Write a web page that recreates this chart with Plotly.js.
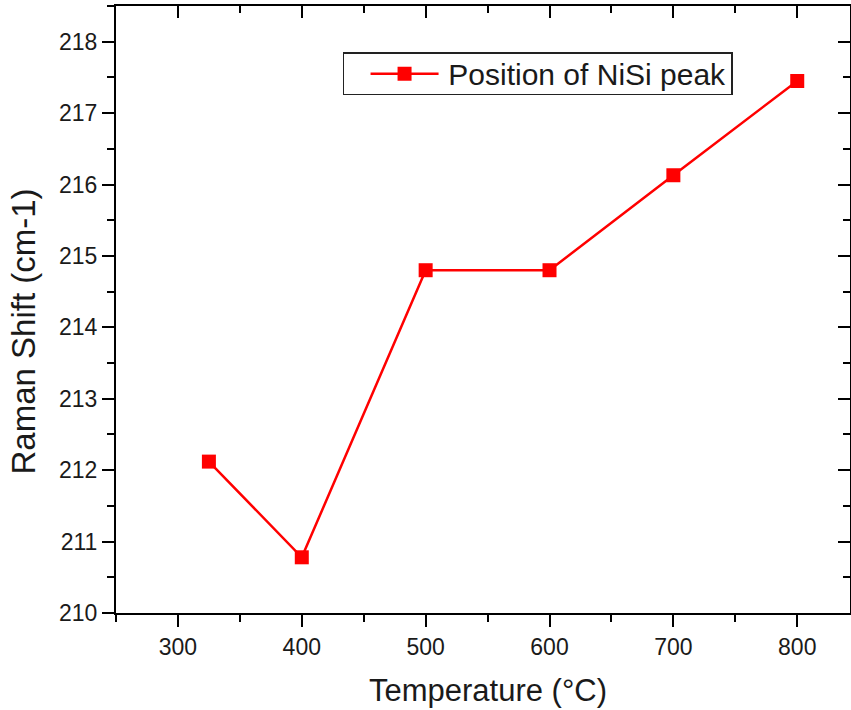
<!DOCTYPE html>
<html>
<head>
<meta charset="utf-8">
<script src="https://cdn.plot.ly/plotly-3.0.1.min.js"></script>
<style>html,body{margin:0;padding:0;background:#fff;}#chart{width:851px;height:710px;}</style>
</head>
<body>
<div id="chart"></div>
<script>
const temperature = [325, 400, 500, 600, 700, 800];
const ramanShift = [212.12, 210.78, 214.80, 214.80, 216.13, 217.45];
const seriesName = 'Position of NiSi peak';
const xTicks = [300, 400, 500, 600, 700, 800];
const yTicks = [210, 211, 212, 213, 214, 215, 216, 217, 218];

const xRange = [250, 842.6];
const yRange = [210, 218.5];
const font = 'Liberation Sans, Arial, sans-serif';
const txt = '#1a1a1a';

const trace = {
  x: temperature, y: ramanShift, name: seriesName,
  type: 'scatter', mode: 'lines+markers',
  line: {color: '#ff0000', width: 2.5},
  marker: {symbol: 'square', size: 14, color: '#ff0000'},
  xaxis: 'x', yaxis: 'y'
};
const frameTrace = {
  x: temperature, y: ramanShift, type: 'scatter', mode: 'none',
  showlegend: false, hoverinfo: 'skip', xaxis: 'x2', yaxis: 'y2'
};

const common = {
  showgrid: false, zeroline: false, showline: true,
  linecolor: '#000', linewidth: 2, tickcolor: '#000', tickwidth: 2,
  tickfont: {family: font, size: 23, color: txt}
};

const layout = {
  width: 851, height: 710,
  margin: {l: 116, r: 1, t: 6, b: 97},
  paper_bgcolor: '#fff', plot_bgcolor: '#fff',
  showlegend: true,
  legend: {
    x: 0.309, y: 0.924, xanchor: 'left', yanchor: 'top',
    bordercolor: '#222', borderwidth: 1.5, bgcolor: '#fff',
    itemwidth: 94,
    font: {family: font, size: 30, color: txt}
  },
  xaxis: Object.assign({}, common, {
    range: xRange, tickmode: 'array', tickvals: xTicks,
    ticks: 'outside', ticklen: 12,
    minor: {dtick: 50, tick0: 250, ticks: 'outside', ticklen: 7, tickcolor: '#000', tickwidth: 2},
    title: {text: 'Temperature (°C)', font: {family: font, size: 31, color: txt}, standoff: 21},
    anchor: 'y'
  }),
  yaxis: Object.assign({}, common, {
    range: yRange, tickmode: 'array', tickvals: yTicks,
    ticks: 'outside', ticklen: 12,
    minor: {dtick: 0.5, tick0: 210, ticks: 'outside', ticklen: 7, tickcolor: '#000', tickwidth: 2},
    title: {text: 'Raman Shift (cm-1)', font: {family: font, size: 33, color: txt}, standoff: 13},
    anchor: 'x'
  }),
  xaxis2: Object.assign({}, common, {
    range: xRange, tickmode: 'array', tickvals: xTicks,
    overlaying: 'x', side: 'top', anchor: 'y2',
    ticks: 'inside', ticklen: 12, showticklabels: false,
    minor: {dtick: 50, tick0: 250, ticks: 'inside', ticklen: 7, tickcolor: '#000', tickwidth: 2}
  }),
  yaxis2: Object.assign({}, common, {
    range: yRange, tickmode: 'array', tickvals: yTicks,
    overlaying: 'y', side: 'right', anchor: 'x2',
    ticks: 'inside', ticklen: 12, showticklabels: false,
    minor: {dtick: 0.5, tick0: 210, ticks: 'inside', ticklen: 7, tickcolor: '#000', tickwidth: 2}
  })
};

function shiftEl(el, dx, dy) {
  if (!el) return;
  const tr = el.getAttribute('transform') || '';
  el.setAttribute('transform', 'translate(' + dx + ',' + dy + ') ' + tr);
}

Plotly.newPlot('chart', [frameTrace, trace], layout, {displayModeBar: false, staticPlot: true}).then(function () {
  try {
    // axis titles sit slightly off-centre in the reference
    shiftEl(document.querySelector('.ytitle'), 0, 22);
    shiftEl(document.querySelector('.xtitle'), 5, 0);

    const legend = document.querySelector('.legend');
    const bg = legend.querySelector('.bg');
    const L = bg.getBoundingClientRect().left;
    legend.querySelectorAll('.traces').forEach(function (g) {
      const sym = g.querySelector('.legendsymbols');
      const pt = sym && sym.querySelector('path');
      if (pt) {
        const r = pt.getBoundingClientRect();
        const dx = L + 61 - (r.left + r.right) / 2;
        sym.setAttribute('transform', 'translate(' + dx + ',0)');
      }
      const lines = g.querySelector('.legendlines');
      const lp = lines && lines.querySelector('path');
      if (lp) {
        lines.removeAttribute('transform');
        lp.setAttribute('d', 'M0,0h68');
        const r2 = lp.getBoundingClientRect();
        const dx2 = L + 27 - r2.left;
        lines.setAttribute('transform', 'translate(' + dx2 + ',0)');
      }
    });
    const y0 = parseFloat(bg.getAttribute('y') || 0);
    const h0 = parseFloat(bg.getAttribute('height'));
    bg.setAttribute('y', y0 + 6);
    bg.setAttribute('height', h0 - 12);
    const tr = legend.getAttribute('transform') || '';
    legend.setAttribute('transform', tr + ' translate(0,-6)');
  } catch (e) {}
});
</script>
</body>
</html>
